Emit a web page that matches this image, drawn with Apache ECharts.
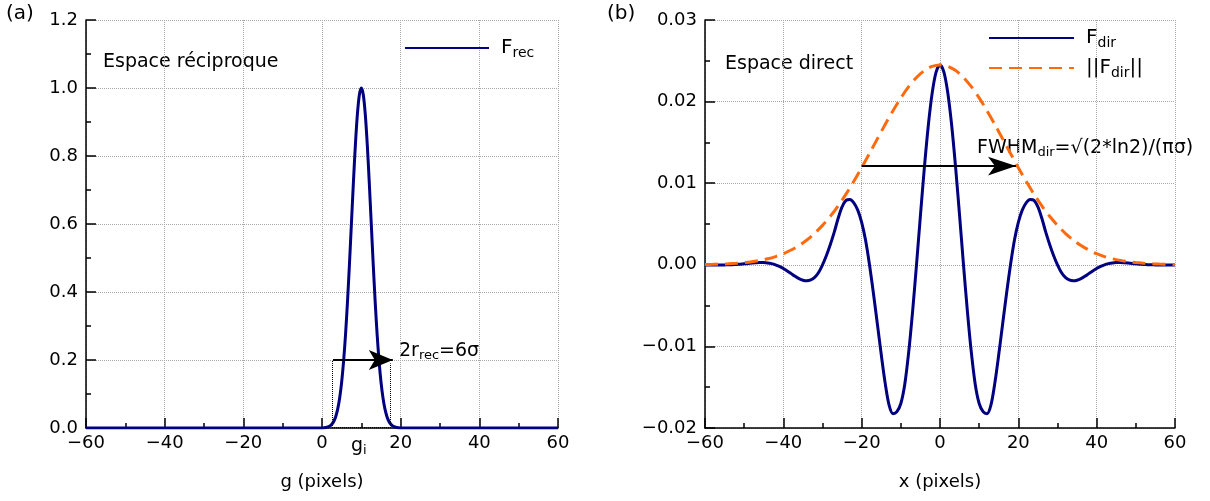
<!DOCTYPE html>
<html>
<head>
<meta charset="utf-8">
<script src="https://cdn.jsdelivr.net/npm/echarts@6/dist/echarts.min.js"></script>
<style>
  html, body { margin: 0; padding: 0; background: #fff; }
  #chart { width: 1210px; height: 501px; }
</style>
</head>
<body>
<div id="chart"></div>
<script>
// panel (a) : reciprocal space
const recX = [-60, -40, -20, -10, 0, 1, 2, 2.5, 3, 3.5, 4, 4.5, 5, 5.5, 6, 6.5, 7, 7.5, 8, 8.5, 9, 9.5, 10,
  10.5, 11, 11.5, 12, 12.5, 13, 13.5, 14, 14.5, 15, 15.5, 16, 16.5, 17, 17.5, 18, 19, 20, 30, 40, 60];
const recY = [0, 0, 0, 0, 0.0003, 0.0015, 0.0060, 0.0111, 0.0198, 0.0340, 0.0561, 0.0889, 0.1353, 0.1979,
  0.2780, 0.3753, 0.4868, 0.6065, 0.7261, 0.8353, 0.9231, 0.9802, 1.0, 0.9802, 0.9231, 0.8353, 0.7261,
  0.6065, 0.4868, 0.3753, 0.2780, 0.1979, 0.1353, 0.0889, 0.0561, 0.0340, 0.0198, 0.0111, 0.0060, 0.0015,
  0.0003, 0, 0, 0];

// panel (b) : direct space
const dirX = [-60, -59, -58, -57, -56, -55, -54, -53, -52, -51, -50, -49, -48, -47, -46, -45, -44, -43, -42, -41,
  -40, -39, -38, -37, -36, -35, -34, -33, -32, -31, -30, -29, -28, -27, -26, -25, -24, -23, -22, -21,
  -20, -19, -18, -17, -16, -15, -14, -13, -12, -11, -10, -9, -8, -7, -6, -5, -4, -3, -2, -1,
  0, 1, 2, 3, 4, 5, 6, 7, 8, 9, 10, 11, 12, 13, 14, 15, 16, 17, 18, 19,
  20, 21, 22, 23, 24, 25, 26, 27, 28, 29, 30, 31, 32, 33, 34, 35, 36, 37, 38, 39,
  40, 41, 42, 43, 44, 45, 46, 47, 48, 49, 50, 51, 52, 53, 54, 55, 56, 57, 58, 59, 60];
const dirY = [-0.00001, -0.00002, -0.00002, -0.00002, -0.00002, -0.00001, 0, 0.00002, 0.00005, 0.00008,
  0.00012, 0.00016, 0.00021, 0.00025, 0.00027, 0.00027, 0.00023, 0.00014, 0, -0.00020,
  -0.00045, -0.00075, -0.00108, -0.00141, -0.00169, -0.00189, -0.00196, -0.00185, -0.00155, -0.00095,
  0, 0.00115, 0.00250, 0.00400, 0.00570, 0.00710, 0.00790, 0.00800, 0.00760, 0.00670,
  0.00520, 0.00300, 0, -0.00349, -0.00723, -0.01100, -0.01450, -0.01720, -0.01825, -0.01800,
  -0.01700, -0.01466, -0.01074, -0.00573, 0, 0.00602, 0.01185, 0.01701, 0.02104, 0.02362,
  0.02450,
  0.02362, 0.02104, 0.01701, 0.01185, 0.00602, 0, -0.00573, -0.01074, -0.01466, -0.01700,
  -0.01800, -0.01825, -0.01720, -0.01450, -0.01100, -0.00723, -0.00349, 0, 0.00300, 0.00520,
  0.00670, 0.00760, 0.00800, 0.00790, 0.00710, 0.00570, 0.00400, 0.00250, 0.00115, 0,
  -0.00095, -0.00155, -0.00185, -0.00196, -0.00189, -0.00169, -0.00141, -0.00108, -0.00075, -0.00045,
  -0.00020, 0, 0.00014, 0.00023, 0.00027, 0.00027, 0.00025, 0.00021, 0.00016, 0.00012,
  0.00008, 0.00005, 0.00002, 0, -0.00001, -0.00002, -0.00002, -0.00002, -0.00002, -0.00001];

const envX = [-60, -58, -56, -54, -52, -50, -48, -46, -44, -42, -40, -38, -36, -34, -32, -30, -28, -26, -24, -22,
  -20, -18, -16, -14, -12, -10, -8, -6, -4, -2, 0, 2, 4, 6, 8, 10, 12, 14, 16, 18, 20, 22, 24, 26, 28, 30,
  32, 34, 36, 38, 40, 42, 44, 46, 48, 50, 52, 54, 56, 58, 60];
const absY = [0.00004, 0.00006, 0.00009, 0.00013, 0.00019, 0.00027, 0.00038, 0.00054, 0.00074, 0.00101, 0.00136,
  0.00181, 0.00236, 0.00304, 0.00386, 0.00483, 0.00595, 0.00723, 0.00866, 0.01023, 0.01190, 0.01365, 0.01543,
  0.01720, 0.01889, 0.02045, 0.02183, 0.02296, 0.02380, 0.02432, 0.02450, 0.02432, 0.02380, 0.02296, 0.02183,
  0.02045, 0.01889, 0.01720, 0.01543, 0.01365, 0.01190, 0.01023, 0.00866, 0.00723, 0.00595, 0.00483, 0.00386,
  0.00304, 0.00236, 0.00181, 0.00136, 0.00101, 0.00074, 0.00054, 0.00038, 0.00027, 0.00019, 0.00013, 0.00009,
  0.00006, 0.00004];

const xTicks = { min: -60, max: 60, interval: 20 };
const recTicks = { min: 0, max: 1.2, interval: 0.2 };
const dirTicks = { min: -0.02, max: 0.03, interval: 0.01 };

const FONT = 'DejaVu Sans';
const NAVY = '#000080';
const ORANGE = '#ff6a0d';
const MINUS = '\u2212';

const chart = echarts.init(document.getElementById('chart'));

function fmt(v, d) {
  if (Math.abs(v) < 1e-9) v = 0;
  return v.toFixed(d).replace('-', MINUS);
}

function baseAxis(extra) {
  return Object.assign({
    type: 'value',
    axisLine: { onZero: false, lineStyle: { color: '#000', width: 1.5 } },
    axisTick: { inside: true, length: 10, lineStyle: { color: '#000', width: 1.5 } },
    minorTick: { show: true, splitNumber: 2, length: 5, lineStyle: { color: '#000', width: 1.5 } },
    splitLine: { show: true, lineStyle: { color: '#a8a8a8', type: 'dotted', width: 1 } },
    minorSplitLine: { show: false }
  }, extra);
}

const labelStyle = { color: '#000', fontSize: 18, fontFamily: FONT };
const nameStyle = { color: '#000', fontSize: 18, fontFamily: FONT };

const legendRich = {
  m: { fontSize: 20, fontFamily: FONT, color: '#000', lineHeight: 24, padding: [0, 0, 0, 7] },
  n: { fontSize: 20, fontFamily: FONT, color: '#000', lineHeight: 24 },
  s: { fontSize: 14, fontFamily: FONT, color: '#000', lineHeight: 14, verticalAlign: 'bottom' }
};
const legendText = {
  Frec: '{m|F}{s|rec}',
  Fdir: '{m|F}{s|dir}',
  absFdir: '{m|||F}{s|dir}{n|||}'
};

const annRich = {
  m: { fontSize: 19, fontFamily: FONT, fill: '#000', lineHeight: 22 },
  s: { fontSize: 13, fontFamily: FONT, fill: '#000', lineHeight: 13, verticalAlign: 'bottom' }
};

function txt(x, y, text, size) {
  return {
    type: 'text', x: x, y: y, silent: true,
    style: { text: text, fontSize: size || 19, fontFamily: FONT, fill: '#000', verticalAlign: 'middle' }
  };
}
function rich(x, y, text) {
  return {
    type: 'text', x: x, y: y, silent: true,
    style: { text: text, rich: annRich, fontSize: 19, fontFamily: FONT, fill: '#000', verticalAlign: 'middle' }
  };
}

const dotted = { type: 'dotted', color: '#000', width: 1 };
const solid = { type: 'solid', color: '#000', width: 2 };

chart.setOption({
  backgroundColor: '#fff',
  animation: false,
  grid: [
    { left: 86, right: 652, top: 20, bottom: 73 },
    { left: 705, right: 35, top: 20, bottom: 73 }
  ],
  xAxis: [
    baseAxis(Object.assign({
      gridIndex: 0,
      name: 'g (pixels)', nameLocation: 'middle', nameGap: 45, nameTextStyle: nameStyle,
      axisLabel: Object.assign({ margin: 6, formatter: v => fmt(v, 0) }, labelStyle)
    }, xTicks)),
    baseAxis(Object.assign({
      gridIndex: 1,
      name: 'x (pixels)', nameLocation: 'middle', nameGap: 45, nameTextStyle: nameStyle,
      axisLabel: Object.assign({ margin: 6, formatter: v => fmt(v, 0) }, labelStyle)
    }, xTicks))
  ],
  yAxis: [
    baseAxis(Object.assign({
      gridIndex: 0,
      axisLabel: Object.assign({ margin: 8, formatter: v => fmt(v, 1) }, labelStyle)
    }, recTicks)),
    baseAxis(Object.assign({
      gridIndex: 1,
      axisLabel: Object.assign({ margin: 8, formatter: v => fmt(v, 2) }, labelStyle)
    }, dirTicks))
  ],
  legend: [
    {
      data: ['Frec'], left: 404, top: 38, padding: 0,
      itemWidth: 84, itemHeight: 14, selectedMode: false,
      itemStyle: { opacity: 0 },
      formatter: n => legendText[n],
      textStyle: { rich: legendRich }
    },
    {
      data: ['Fdir', 'absFdir'], orient: 'vertical', left: 988, top: 28, padding: 0,
      itemWidth: 85, itemHeight: 14, itemGap: 8, selectedMode: false,
      itemStyle: { opacity: 0 },
      formatter: n => legendText[n],
      textStyle: { rich: legendRich }
    }
  ],
  series: [
    {
      name: 'Frec', type: 'line', xAxisIndex: 0, yAxisIndex: 0,
      data: recX.map((x, i) => [x, recY[i]]),
      symbol: 'none', smooth: 0.3,
      lineStyle: { color: NAVY, width: 3, join: 'round' }, itemStyle: { color: NAVY },
      markLine: {
        silent: true, symbol: ['none', 'none'], label: { show: false },
        emphasis: { disabled: true },
        data: [
          [{ coord: [2.55, 0], lineStyle: dotted }, { coord: [2.55, 0.2] }],
          [{ coord: [17.3, 0], lineStyle: dotted }, { coord: [17.3, 0.19] }],
          [{ coord: [2.55, 0.002], lineStyle: dotted }, { coord: [17.3, 0.002] }],
          [{ coord: [2.8, 0.2], lineStyle: solid }, { coord: [18, 0.2], symbol: 'arrow', symbolSize: [15, 24] }]
        ]
      }
    },
    {
      name: 'Fdir', type: 'line', xAxisIndex: 1, yAxisIndex: 1,
      data: dirX.map((x, i) => [x, dirY[i]]),
      symbol: 'none', smooth: 0.3,
      lineStyle: { color: NAVY, width: 3, join: 'round' }, itemStyle: { color: NAVY },
      markLine: {
        silent: true, symbol: ['none', 'none'], label: { show: false },
        emphasis: { disabled: true },
        data: [
          [{ coord: [-20, 0.0121], lineStyle: solid }, { coord: [19.4, 0.0121], symbol: 'arrow', symbolSize: [14, 28] }]
        ]
      }
    },
    {
      name: 'absFdir', type: 'line', xAxisIndex: 1, yAxisIndex: 1,
      data: envX.map((x, i) => [x, absY[i]]),
      symbol: 'none', smooth: 0.3,
      lineStyle: { color: ORANGE, width: 3, type: [13, 7] }, itemStyle: { color: ORANGE }
    }
  ],
  graphic: [
    txt(6, 14, '(a)', 20),
    txt(607, 14, '(b)', 20),
    txt(103, 62, 'Espace réciproque'),
    txt(725, 64, 'Espace direct'),
    rich(399, 351, '{m|2r}{s|rec}{m|=6σ}'),
    rich(351, 446, '{m|g}{s|i}'),
    rich(977, 148, '{m|FWHM}{s|dir}{m|=√(2*ln2)/(πσ)}')
  ]
});
</script>
</body>
</html>
